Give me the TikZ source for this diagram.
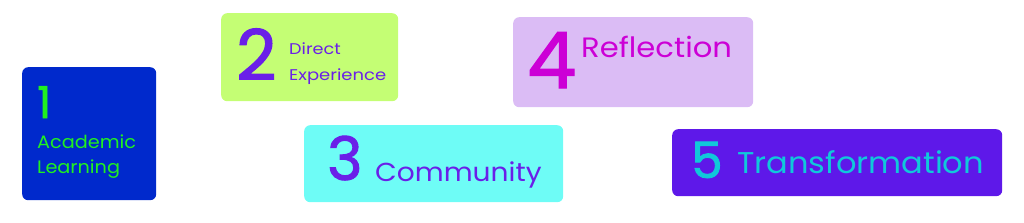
\documentclass[tikz,border=0pt]{standalone}
\usepackage{fontspec}
\setmainfont{Poppins}
\newfontfamily\digitfont[FakeBold=1.6]{Poppins}
\definecolor{bluebox}{HTML}{0029CC}
\definecolor{greentxt}{HTML}{20F020}
\definecolor{limebox}{HTML}{C4FE74}
\definecolor{purptxt}{HTML}{6A1FE8}
\definecolor{lilacbox}{HTML}{DBBCF5}
\definecolor{magtxt}{HTML}{CC00D6}
\definecolor{cyanbox}{HTML}{6EFCF6}
\definecolor{violetbox}{HTML}{5E18E9}
\definecolor{cyantxt}{HTML}{10C8DA}
\begin{document}
\begin{tikzpicture}[x=1pt,y=-1pt,
  card/.style={anchor=north west,inner sep=0pt,rounded corners=6pt,draw=none},
  lbl/.style={anchor=base west,inner sep=0pt,font=\fontsize{#1}{#1}\selectfont},
  num/.style={anchor=base west,inner sep=0pt,font=\digitfont\fontsize{#1}{#1}\selectfont}]
\useasboundingbox (0,0) rectangle (1024,222);
% boxes
\node[card,fill=bluebox,minimum width=134pt,minimum height=133pt] (b1) at (22,67) {};
\node[card,fill=limebox,minimum width=177pt,minimum height=88pt] (b2) at (221,13) {};
\node[card,fill=lilacbox,minimum width=240pt,minimum height=90pt] (b4) at (513,17) {};
\node[card,fill=cyanbox,minimum width=259pt,minimum height=77pt] (b3) at (304,125) {};
\node[card,fill=violetbox,minimum width=330pt,minimum height=67pt] (b5) at (672,129) {};
% texts box 1
\node[num=44,text=greentxt] (n1) at (37,118) {1};
\node[lbl=18,text=greentxt] (t1a) at (37,148) {\scalebox{1.07}[1]{Academic}};
\node[lbl=18,text=greentxt] (t1b) at (37,173) {\scalebox{1.07}[1]{Learning}};
% box 2
\node[num=70,text=purptxt] (n2) at (236,80) {2};
\node[lbl=15.5,text=purptxt] (t2a) at (289,55) {\scalebox{1.14}[1]{Direct}};
\node[lbl=15.5,text=purptxt] (t2b) at (289,80) {\scalebox{1.16}[1]{Experience}};
% box 4
\node[num=78,text=magtxt] (n4) at (527,88) {4};
\node[lbl=28,text=magtxt] (t4) at (581,58) {\scalebox{1.095}[1]{Reflection}};
% box 3
\node[num=60,text=purptxt] (n3) at (327,180) {3};
\node[lbl=26,text=purptxt] (t3) at (375,181) {\scalebox{1.08}[1]{Community}};
% box 5
\node[num=50,text=cyantxt] (n5) at (691,178) {5};
\node[lbl=30,text=cyantxt] (t5) at (737,173) {\scalebox{1.07}[1]{Transformation}};
\end{tikzpicture}
\end{document}
